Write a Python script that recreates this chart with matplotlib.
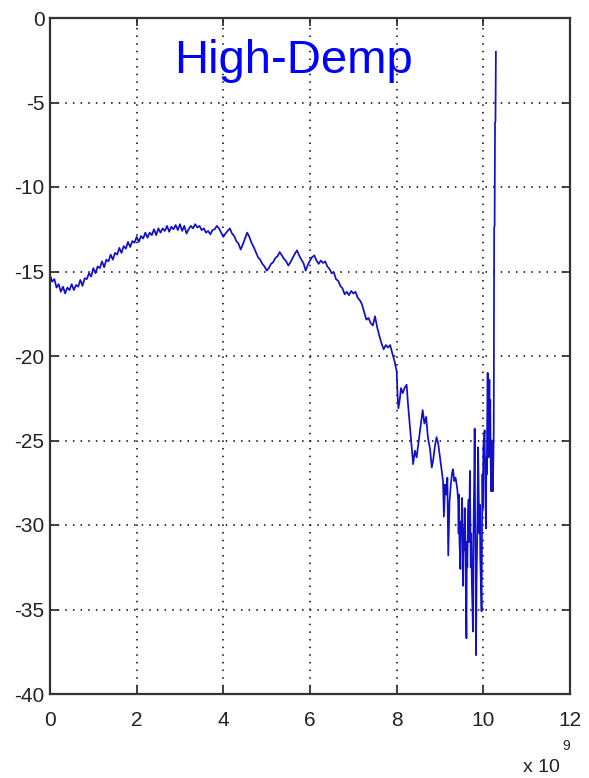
import matplotlib
matplotlib.use("Agg")
import matplotlib.pyplot as plt
from matplotlib.ticker import FixedLocator, FuncFormatter

plt.rcParams['axes.unicode_minus'] = False

# frequency sweep, GHz (plotted in Hz)
f_low = [0.00, 0.05, 0.10, 0.15, 0.20, 0.25, 0.30, 0.35, 0.40, 0.45,
         0.50, 0.55, 0.60, 0.65, 0.70, 0.75, 0.80, 0.85, 0.90, 0.95,
         1.00, 1.05, 1.10, 1.15, 1.20, 1.25, 1.30, 1.35, 1.40, 1.45,
         1.50, 1.55, 1.60, 1.65, 1.70, 1.75, 1.80, 1.85, 1.90, 1.95,
         2.00, 2.05, 2.10, 2.15, 2.20, 2.25, 2.30, 2.35, 2.40, 2.45,
         2.50, 2.55, 2.60, 2.65, 2.70, 2.75, 2.80, 2.85, 2.90, 2.95,
         3.00, 3.05, 3.10, 3.15, 3.20, 3.25, 3.30]
db_low = [-15.20, -15.60, -15.45, -15.95, -15.75, -16.20, -15.90, -16.30, -15.95, -16.10,
          -15.75, -16.10, -15.80, -15.90, -15.50, -15.85, -15.40, -15.45, -15.10, -15.30,
          -14.80, -15.10, -14.70, -14.80, -14.40, -14.75, -14.30, -14.40, -14.00, -14.30,
          -13.90, -14.00, -13.60, -13.90, -13.50, -13.65, -13.25, -13.55, -13.20, -13.30,
          -12.95, -13.25, -12.90, -13.05, -12.70, -13.00, -12.70, -12.85, -12.50, -12.85,
          -12.45, -12.70, -12.45, -12.60, -12.30, -12.65, -12.35, -12.50, -12.25, -12.55,
          -12.20, -12.60, -12.30, -12.75, -12.50, -12.30, -12.45]

f_mid = [3.35, 3.40, 3.45, 3.50, 3.55, 3.60, 3.65, 3.70, 3.75, 3.80,
         3.85, 3.90, 3.95, 4.00, 4.05, 4.10, 4.15, 4.20, 4.25, 4.30,
         4.35, 4.40, 4.45, 4.50, 4.55, 4.60, 4.65, 4.70, 4.75, 4.80,
         4.85, 4.90, 4.95, 5.00, 5.05, 5.10, 5.15, 5.20, 5.25, 5.30,
         5.35, 5.40, 5.45, 5.50, 5.55, 5.60, 5.65, 5.70, 5.75, 5.80,
         5.85, 5.90, 5.95, 6.00, 6.05, 6.10, 6.15, 6.20, 6.25, 6.30,
         6.35, 6.40, 6.45, 6.50, 6.55, 6.60, 6.65, 6.70, 6.75, 6.80,
         6.85, 6.90, 6.95, 7.00, 7.05, 7.10, 7.15, 7.20, 7.25, 7.30,
         7.35, 7.40, 7.45, 7.50, 7.55, 7.60, 7.65, 7.70, 7.75, 7.80,
         7.85, 7.90, 7.95, 8.00]
db_mid = [-12.20, -12.40, -12.30, -12.55, -12.45, -12.70, -12.60, -12.80, -12.55, -12.50,
          -12.30, -12.45, -12.70, -12.95, -12.75, -12.60, -12.45, -12.75, -12.90, -13.20,
          -13.35, -13.70, -13.40, -13.05, -12.70, -12.95, -13.30, -13.55, -13.85, -14.15,
          -14.30, -14.55, -14.70, -14.95, -14.80, -14.55, -14.45, -14.20, -14.10, -13.85,
          -14.05, -14.25, -14.40, -14.65, -14.45, -14.20, -13.95, -13.75, -14.05, -14.30,
          -14.50, -14.95, -14.60, -14.35, -14.15, -14.05, -14.35, -14.55, -14.35, -14.50,
          -14.40, -14.70, -14.85, -15.10, -15.05, -15.45, -15.55, -15.85, -16.00, -16.35,
          -16.20, -16.40, -16.15, -16.30, -16.20, -16.55, -16.70, -16.95, -17.40, -17.85,
          -17.75, -18.05, -18.20, -17.65, -18.30, -18.80, -19.25, -19.60, -19.35, -19.50,
          -19.35, -19.85, -20.30, -20.90]

f_high = [8.02, 8.04, 8.07, 8.10, 8.14, 8.18, 8.23, 8.26, 8.30, 8.34,
          8.38, 8.42, 8.46, 8.50, 8.55, 8.60, 8.64, 8.68, 8.72, 8.77,
          8.81, 8.84, 8.88, 8.92, 8.96, 9.00, 9.04, 9.07, 9.09, 9.12,
          9.15, 9.17, 9.19, 9.22, 9.25, 9.28, 9.30, 9.33, 9.36, 9.40,
          9.42, 9.43, 9.44, 9.45, 9.47, 9.48, 9.50, 9.51, 9.53, 9.54,
          9.56, 9.57, 9.58, 9.60, 9.61, 9.62, 9.63, 9.645, 9.66, 9.67,
          9.69, 9.70, 9.71, 9.72, 9.735, 9.75, 9.76, 9.77, 9.78, 9.79,
          9.80, 9.81, 9.82, 9.83, 9.845, 9.86, 9.87, 9.88, 9.895, 9.91,
          9.92, 9.93, 9.945, 9.96, 9.97, 9.98, 9.99, 10.00, 10.03, 10.04,
          10.05, 10.06, 10.07, 10.08, 10.09, 10.10, 10.11, 10.12, 10.13, 10.14,
          10.15, 10.16, 10.17, 10.18, 10.19, 10.20, 10.21, 10.22, 10.23, 10.24,
          10.25, 10.26, 10.27, 10.28, 10.29]
db_high = [-22.30, -23.10, -22.60, -21.90, -22.20, -21.90, -21.70, -22.80, -24.00, -25.20,
           -26.40, -25.60, -26.00, -25.20, -24.20, -23.20, -24.00, -23.60, -24.80, -25.50,
           -26.60, -26.20, -25.40, -24.80, -25.20, -26.00, -26.80, -27.40, -29.50, -27.60,
           -28.20, -27.20, -31.80, -28.60, -27.60, -26.90, -26.70, -27.40, -27.20, -27.90,
           -28.60, -30.50, -28.20, -31.00, -32.60, -29.80, -30.50, -28.40, -33.60, -30.20,
           -31.50, -29.00, -30.50, -34.50, -36.70, -31.00, -32.50, -29.50, -28.50, -31.00,
           -26.80, -30.00, -32.50, -30.50, -33.50, -35.00, -36.30, -31.00, -29.00, -27.00,
           -24.30, -29.50, -32.00, -37.70, -33.00, -30.50, -28.00, -25.40, -28.50, -30.50,
           -28.80, -32.00, -33.50, -35.10, -30.00, -27.00, -29.00, -25.40, -24.40, -27.00,
           -28.50, -30.20, -26.00, -27.00, -23.50, -21.00, -24.50, -26.00, -23.00, -21.40,
           -24.00, -22.60, -26.50, -28.00, -25.50, -25.00, -27.00, -28.00, -26.00, -24.50,
           -12.40, -12.30, -6.20, -6.10, -2.00]

ghz = f_low + f_mid + f_high
db = db_low + db_mid + db_high
hz = [g * 1e9 for g in ghz]

x_ticks = [0, 2, 4, 6, 8, 10, 12]
y_ticks = [-40, -35, -30, -25, -20, -15, -10, -5, 0]

fig = plt.figure(figsize=(5.89, 7.78), dpi=100)
ax = fig.add_axes([50 / 589, 1 - 694 / 778, 520 / 589, 676 / 778])

ax.plot(hz, db, color='#1010c8', linewidth=1.25)

ax.set_xlim(0, 12e9)
ax.set_ylim(-40, 0)
ax.xaxis.set_major_locator(FixedLocator([t * 1e9 for t in x_ticks]))
ax.xaxis.set_major_formatter(FuncFormatter(lambda v, p: '%g' % (v / 1e9)))
ax.yaxis.set_major_locator(FixedLocator(y_ticks))
ax.yaxis.set_major_formatter(FuncFormatter(lambda v, p: '%g' % v))

ax.grid(True, color='black', linestyle=(0, (1, 4)), linewidth=1.1)
ax.tick_params(direction='in', length=6, width=1.2, top=True, right=True,
               colors='#222222', labelsize=15)
ax.tick_params(axis='x', pad=12)
ax.tick_params(axis='y', pad=4)
for lab in ax.get_xticklabels() + ax.get_yticklabels():
    lab.set_family(['Liberation Sans Narrow', 'Liberation Sans', 'DejaVu Sans'])
for sp in ax.spines.values():
    sp.set_linewidth(1.6)
    sp.set_color('#333333')

ax.text(0.468, 0.918, 'High-Demp', transform=ax.transAxes, ha='center',
        va='baseline', color='#0000ff', fontsize=34,
        family=['Liberation Sans', 'DejaVu Sans'])

# exponent of the frequency axis
fig.text(560 / 589, 1 - 772 / 778, 'x 10', fontsize=14, color='#222222',
         family=['Liberation Sans Narrow', 'Liberation Sans'],
         ha='right', va='baseline')
fig.text(562 / 589, 1 - 750 / 778, '9', fontsize=10, color='#222222',
         family=['Liberation Sans Narrow', 'Liberation Sans'], va='baseline')

fig.savefig('out.png', dpi=100)
